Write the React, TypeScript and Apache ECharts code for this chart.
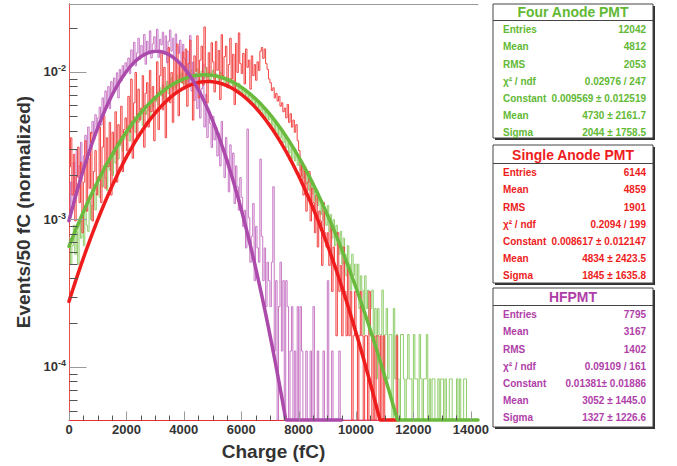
import React, { useEffect, useRef } from 'react';
import * as echarts from 'echarts';

// ---- axis ranges ----
const BIN = 50; // fC per bin
const X_MAX = 14250;
const Y_MIN = 4.372e-5;
const Y_MAX = 0.0289;

// ---- series meta ----
const seriesNames = ['Four Anode PMT', 'Single Anode PMT', 'HFPMT'];
const entries = [12042, 6144, 7795];
const histColors = ['#8fcd6a', '#f24444', '#c777c4'];
const fitColors = ['#6aba3e', '#ee1c1c', '#ab4aab'];
const textColors = ['#62b934', '#ee1c1c', '#b03ea8'];

// ---- histogram contents (counts per 50 fC bin) ----
const greenCounts = [
  9, 6, 8, 11, 7, 10, 6, 12, 9, 13, 8, 14, 11, 10, 16, 12, 15, 19, 14, 18,
  21, 17, 25, 20, 28, 23, 19, 30, 26, 33, 24, 36, 29, 40, 31, 38, 44, 35, 42, 48,
  45, 52, 41, 56, 50, 60, 47, 63, 55, 58, 68, 52, 71, 62, 66, 75, 60, 78, 70, 82,
  76, 88, 72, 94, 83, 99, 80, 90, 104, 86, 97, 110, 92, 102, 95, 114, 98, 106, 118, 100,
  110, 98, 121, 105, 116, 124, 102, 119, 108, 126, 113, 104, 122, 117, 109, 128, 111, 120, 106, 118,
  124, 108, 117, 112, 101, 120, 107, 114, 98, 111, 104, 96, 109, 100, 93, 105, 97, 90, 101, 88,
  96, 85, 92, 80, 89, 78, 86, 74, 82, 70, 79, 68, 75, 66, 71, 62, 69, 58, 64, 57,
  61, 52, 58, 48, 55, 45, 51, 43, 47, 40, 45, 37, 42, 34, 39, 31, 36, 30, 33, 28,
  31, 26, 29, 23, 27, 21, 25, 19, 23, 18, 21, 16, 19, 15, 17, 13, 16, 12, 14, 11,
  15, 10, 13, 9, 12, 8, 11, 9, 7, 10, 6, 9, 7, 5, 8, 6, 4, 7, 5, 6,
  4, 6, 3, 5, 4, 2, 5, 3, 4, 2, 3, 4, 2, 3, 1, 3, 2, 2, 4, 1,
  2, 3, 1, 2, 2, 0, 3, 1, 2, 1, 0, 2, 2, 1, 0, 1, 2, 1, 1, 0,
  2, 1, 1, 0, 2, 1, 0, 1, 1, 2, 0, 1, 0, 1, 1, 0, 0, 1, 0, 1,
  1, 0, 1, 0, 0, 1, 1, 0, 0, 0, 1, 0, 1, 0, 0, 1, 1, 0, 0, 0,
  0, 0, 0, 0, 0,
];
const redCounts = [
  14, 22, 9, 17, 6, 12, 19, 8, 15, 5, 11, 21, 7, 16, 10, 24, 6, 13, 18, 9,
  12, 26, 8, 19, 31, 10, 22, 14, 28, 9, 24, 17, 33, 11, 27, 20, 36, 13, 25, 30,
  18, 42, 24, 55, 16, 38, 61, 22, 47, 29, 35, 58, 19, 44, 52, 26, 63, 33, 49, 21,
  40, 72, 25, 58, 86, 34, 66, 22, 49, 90, 38, 61, 28, 77, 45, 95, 31, 68, 52, 84,
  47, 88, 36, 70, 101, 55, 29, 79, 62, 108, 41, 74, 92, 50, 124, 66, 38, 83, 58, 97,
  72, 45, 99, 63, 86, 40, 110, 58, 78, 92, 48, 69, 104, 55, 81, 37, 96, 61, 113, 70,
  60, 82, 51, 88, 66, 74, 47, 79, 58, 69, 54, 72, 63, 85, 90, 76, 88, 70, 64, 55,
  52, 46, 48, 41, 44, 39, 42, 36, 38, 33, 35, 30, 37, 28, 32, 26, 29, 24, 27, 21,
  18, 12, 15, 9, 14, 7, 11, 13, 6, 10, 8, 5, 9, 4, 7, 6, 3, 8, 5, 4,
  5, 3, 6, 2, 4, 3, 1, 5, 2, 3, 1, 4, 2, 1, 3, 1, 2, 0, 1, 2,
  1, 0, 1, 2, 1, 0, 1, 1, 0, 2, 1, 0, 1, 0, 1, 1, 0, 1, 0, 1,
  0, 0, 0, 0, 0, 0, 0, 0, 1, 0, 0, 0, 0, 0, 0, 0, 0, 0, 0, 0,
  0, 0, 0, 0, 0, 0, 0, 0, 0, 0, 0, 0, 0, 0, 0, 0, 0, 0, 0, 0,
  0, 0, 0, 0, 0, 0, 0, 0, 0, 0, 0, 0, 0, 0, 0, 0, 0, 0, 0, 0,
  0, 0, 0, 0, 0,
];
const purpleCounts = [
  8, 14, 10, 19, 12, 23, 15, 18, 26, 16, 21, 29, 19, 33, 24, 30, 36, 27, 40, 33,
  38, 45, 34, 52, 41, 58, 47, 62, 44, 67, 55, 71, 60, 77, 52, 81, 68, 86, 73, 90,
  84, 97, 76, 110, 91, 124, 86, 105, 132, 95, 118, 101, 140, 88, 126, 109, 148, 97, 121, 135,
  112, 152, 98, 130, 119, 145, 103, 137, 90, 126, 150, 108, 132, 95, 141, 116, 104, 128, 88, 120,
  96, 72, 108, 64, 138, 58, 91, 50, 76, 44, 69, 38, 60, 88, 33, 55, 28, 42, 35, 24,
  39, 27, 33, 21, 30, 18, 36, 24, 15, 28, 20, 12, 25, 16, 22, 10, 18, 13, 9, 15,
  11, 7, 9, 5, 32, 8, 4, 6, 10, 3, 7, 5, 4, 20, 6, 3, 5, 2, 4, 3,
  2, 4, 13, 1, 3, 0, 2, 4, 1, 3, 0, 3, 2, 0, 1, 2, 0, 1, 0, 2,
  0, 2, 1, 0, 0, 1, 0, 0, 1, 0, 2, 0, 0, 1, 0, 0, 0, 1, 0, 0,
  3, 0, 0, 1, 0, 0, 0, 0, 1, 0, 0, 0, 0, 0, 0, 0, 0, 0, 0, 0,
  0, 0, 0, 0, 0, 0, 0, 0, 0, 0, 0, 0, 0, 0, 0, 0, 0, 0, 0, 0,
  0, 0, 0, 0, 0, 0, 0, 0, 0, 0, 0, 0, 0, 0, 0, 0, 0, 0, 0, 0,
  0, 0, 0, 0, 0, 0, 0, 0, 0, 0, 0, 0, 0, 0, 0, 0, 0, 0, 0, 0,
  0, 0, 0, 0, 0, 0, 0, 0, 0, 0, 0, 0, 0, 0, 0, 0, 0, 0, 0, 0,
  0, 0, 0, 0, 0,
];
const histCounts = [greenCounts, redCounts, purpleCounts];

// ---- Gaussian fit parameters (from the stats boxes) ----
const fitConstant = [0.009569, 0.008617, 0.01381];
const fitMean = [4730, 4834, 3052];
const fitSigma = [2044, 1845, 1327];
const fitRangeMax = [14250, 11500, 9500];

// ---- stats boxes ----
const statLabels = ['Entries', 'Mean', 'RMS', 'χ² / ndf', 'Constant', 'Mean', 'Sigma'];
const statValuesFour = ['12042', '4812', '2053', '0.02976 / 247', '0.009569 ± 0.012519', '4730 ± 2161.7', '2044 ± 1758.5'];
const statValuesSingle = ['6144', '4859', '1901', '0.2094 / 199', '0.008617 ± 0.012147', '4834 ± 2423.5', '1845 ± 1635.8'];
const statValuesHF = ['7795', '3167', '1402', '0.09109 / 161', '0.01381± 0.01886', '3052 ± 1445.0', '1327 ± 1226.6'];
const statValues = [statValuesFour, statValuesSingle, statValuesHF];

// ---- ticks ----
const xMajorTicks = [0, 2000, 4000, 6000, 8000, 10000, 12000, 14000];
const xMinorTicks = [500, 1000, 1500, 2500, 3000, 3500, 4500, 5000, 5500, 6500, 7000, 7500, 8500, 9000, 9500, 10500, 11000, 11500, 12500, 13000, 13500];
const yMajorTicks = [1e-4, 1e-3, 1e-2];
const yMinorTicks = [5e-5, 6e-5, 7e-5, 8e-5, 9e-5, 2e-4, 3e-4, 4e-4, 5e-4, 6e-4, 7e-4, 8e-4, 9e-4, 2e-3, 3e-3, 4e-3, 5e-3, 6e-3, 7e-3, 8e-3, 9e-3, 2e-2];

// ---- layout of the stats boxes (pixels) ----
const BOX_X = 493;
const BOX_W = 160;
const boxTop = [4, 145, 288];
const boxHeight = [134, 138, 139];
const boxSepY = [20, 163, 305];
const boxTitleY = [12, 155, 297];
const boxRowY0 = [29, 172, 314];
const ROW_STEP = 17.2;

const FONT = 'Liberation Sans, Arial, Helvetica, sans-serif';

function histData(counts: number[], n: number) {
  const d: number[][] = counts.map((c, i) => [i * BIN, Math.max(c / n, Y_MIN)]);
  d.push([counts.length * BIN, d[d.length - 1][1]]);
  return d;
}

function fitData(k: number) {
  const pts: number[][] = [];
  for (let x = 0; x <= fitRangeMax[k]; x += 25) {
    const z = (x - fitMean[k]) / fitSigma[k];
    const v = fitConstant[k] * Math.exp(-0.5 * z * z);
    pts.push([x, Math.max(v, Y_MIN)]);
  }
  return pts;
}

function tickSeries(data: number[][], color: string) {
  return {
    type: 'custom',
    silent: true,
    clip: false,
    z: 6,
    renderItem: (_p: any, api: any) => {
      const p = api.coord([api.value(0), api.value(1)]);
      const len = api.value(2);
      const horiz = api.value(3);
      const x = Math.round(p[0]) + 0.5;
      const y = Math.round(p[1]) + 0.5;
      return {
        type: 'line',
        shape: horiz ? { x1: x, y1: y, x2: x + len, y2: y } : { x1: x, y1: y, x2: x, y2: y - len },
        style: { stroke: color, lineWidth: 1 },
      };
    },
    data,
  };
}

function buildGraphic() {
  const els: any[] = [];
  for (let b = 0; b < 3; b++) {
    els.push({ type: 'rect', z: 100, shape: { x: BOX_X + 2, y: boxTop[b] + 2, width: BOX_W, height: boxHeight[b] }, style: { fill: '#333' } });
    els.push({ type: 'rect', z: 101, shape: { x: BOX_X, y: boxTop[b], width: BOX_W, height: boxHeight[b] }, style: { fill: '#fff', stroke: '#444', lineWidth: 1 } });
    els.push({ type: 'line', z: 102, shape: { x1: BOX_X, y1: boxSepY[b] + 0.5, x2: BOX_X + BOX_W, y2: boxSepY[b] + 0.5 }, style: { stroke: '#444', lineWidth: 1 } });
    els.push({
      type: 'text', z: 103, x: BOX_X + BOX_W / 2, y: boxTitleY[b], scaleX: 0.9,
      style: { text: seriesNames[b], fill: textColors[b], fontSize: 15.5, fontWeight: 'bold', fontFamily: FONT, align: 'center', verticalAlign: 'middle', textAlign: 'center', textVerticalAlign: 'middle' },
    });
    for (let r = 0; r < statLabels.length; r++) {
      const y = boxRowY0[b] + r * ROW_STEP;
      els.push({
        type: 'text', z: 103, x: BOX_X + 10, y, scaleX: 0.87,
        style: { text: statLabels[r], fill: textColors[b], fontSize: 11.5, fontWeight: 'bold', fontFamily: FONT, align: 'left', verticalAlign: 'middle', textAlign: 'left', textVerticalAlign: 'middle' },
      });
      els.push({
        type: 'text', z: 103, x: BOX_X + 153, y, scaleX: 0.87,
        style: { text: statValues[b][r], fill: textColors[b], fontSize: 11.5, fontWeight: 'bold', fontFamily: FONT, align: 'right', verticalAlign: 'middle', textAlign: 'right', textVerticalAlign: 'middle' },
      });
    }
  }
  return els;
}

export default function App() {
  const ref = useRef<HTMLDivElement>(null);
  useEffect(() => {
    if (!ref.current) return;
    const chart = echarts.init(ref.current, null, { renderer: 'svg' });
    const histOrder = [0, 2, 1];
    const fitOrder = [1, 0, 2];
    const series: any[] = [];
    histOrder.forEach((k) => {
      series.push({
        name: seriesNames[k] + ' hist',
        type: 'line',
        step: 'end',
        showSymbol: false,
        symbol: 'none',
        silent: true,
        z: 2,
        lineStyle: { color: histColors[k], width: 1 },
        data: histData(histCounts[k], entries[k]),
      });
    });
    fitOrder.forEach((k) => {
      series.push({
        name: seriesNames[k] + ' fit',
        type: 'line',
        showSymbol: false,
        symbol: 'none',
        silent: true,
        clip: false,
        z: 4,
        lineStyle: { color: fitColors[k], width: 3.5, cap: 'round', join: 'round' },
        data: fitData(k),
      });
    });
    series.push(tickSeries(xMajorTicks.map((v) => [v, Y_MIN, 9, 0]), '#999'));
    series.push(tickSeries(xMinorTicks.map((v) => [v, Y_MIN, 5, 0]), '#555'));
    series.push(tickSeries(yMajorTicks.map((v) => [0, v, 17, 1]), '#999'));
    series.push(tickSeries(yMinorTicks.map((v) => [0, v, 8, 1]), '#555'));

    const option: any = {
      animation: false,
      backgroundColor: '#fff',
      textStyle: { fontFamily: FONT },
      grid: { left: 69, right: 199, top: 4, bottom: 46, containLabel: false },
      xAxis: [
        {
          type: 'value', min: 0, max: X_MAX, interval: 2000,
          name: 'Charge (fC)', nameLocation: 'middle', nameGap: 22,
          nameTextStyle: { fontSize: 19, fontWeight: 'bold', color: '#333', fontFamily: FONT },
          axisLine: { show: true, onZero: false, lineStyle: { color: '#e53030', width: 1 } },
          axisTick: { show: false },
          splitLine: { show: false },
          axisLabel: {
            margin: 3, fontSize: 13, fontWeight: 'bold', color: '#333', fontFamily: FONT,
            formatter: (v: number) => (v % 2000 === 0 ? String(v) : ''),
          },
        },
        {
          type: 'value', position: 'top', min: 0, max: X_MAX,
          axisLine: { show: true, onZero: false, lineStyle: { color: '#999', width: 1 } },
          axisTick: { show: false }, axisLabel: { show: false }, splitLine: { show: false },
        },
      ],
      yAxis: [
        {
          type: 'log', logBase: 10, min: Y_MIN, max: Y_MAX,
          name: 'Events/50 fC (normalized)', nameLocation: 'middle', nameGap: 32,
          nameTextStyle: { fontSize: 19, fontWeight: 'bold', color: '#333', fontFamily: FONT },
          axisLine: { show: true, lineStyle: { color: '#555', width: 1 } },
          axisTick: { show: false },
          splitLine: { show: false },
          axisLabel: {
            margin: 3,
            formatter: (v: number) => {
              const e = Math.log10(v);
              const r = Math.round(e);
              if (Math.abs(e - r) > 1e-6) return '';
              return `{b|10}{s|${r}}`;
            },
            rich: {
              b: { fontSize: 13, fontWeight: 'bold', color: '#333', fontFamily: FONT, lineHeight: 16 },
              s: { fontSize: 9, fontWeight: 'bold', color: '#333', fontFamily: FONT, lineHeight: 9, verticalAlign: 'top' },
            },
          },
        },
        {
          type: 'log', logBase: 10, min: Y_MIN, max: Y_MAX, position: 'right',
          axisLine: { show: true, lineStyle: { color: '#e85050', width: 1 } },
          axisTick: { show: false }, axisLabel: { show: false }, splitLine: { show: false },
        },
      ],
      series,
      graphic: buildGraphic(),
    };
    chart.setOption(option);
    return () => chart.dispose();
  }, []);
  return <div ref={ref} style={{ position: 'absolute', left: 0, top: 0, width: 677, height: 466, background: '#fff' }} />;
}
